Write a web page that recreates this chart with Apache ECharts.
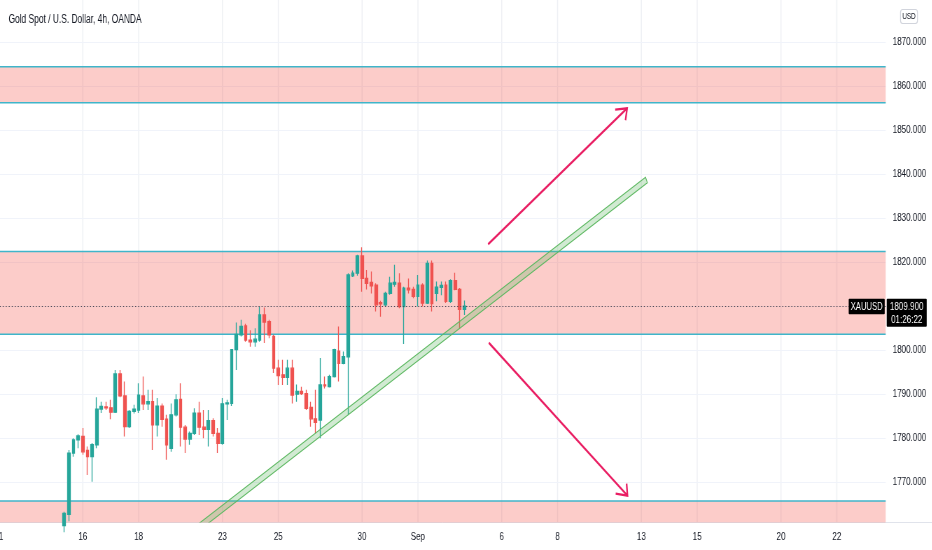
<!DOCTYPE html>
<html><head><meta charset="utf-8">
<script src="https://cdn.jsdelivr.net/npm/echarts@6/dist/echarts.min.js"></script>
<style>
html,body{margin:0;padding:0;background:#fff;overflow:hidden;width:932px;height:550px;}
#c{width:1331.4px;height:550px;transform:scaleX(0.7);transform-origin:0 0;}
</style>
</head><body><div id="c"></div>
<script>
// ---------- data ----------
const titleText = 'Gold Spot / U.S. Dollar, 4h, OANDA';
const tradingDays = ['Aug 11','Aug 12','Aug 13','Aug 16','Aug 17','Aug 18','Aug 19','Aug 20','Aug 23','Aug 24','Aug 25','Aug 26','Aug 27','Aug 30','Aug 31',
  'Sep 1','Sep 2','Sep 3','Sep 6','Sep 7','Sep 8','Sep 9','Sep 10','Sep 13','Sep 14','Sep 15','Sep 16','Sep 17','Sep 20','Sep 21','Sep 22','Sep 23'];
const barHours = ['01:00','05:00','09:00','13:00','17:00','21:00'];
const firstBar = 'Aug 13 09:00';
const opens  = [1760.0,1762.6,1776.5,1779.5,1780.3,1777.1,1775.7,1778.4,1786.5,1787.0,1786.8,1785.8,1794.5,1789.5,1782.5,1786.0,1786.3,1789.5,1787.7,1788.2,
  1782.9,1787.2,1784.2,1777.6,1785.2,1788.7,1782.4,1779.7,1781.0,1785.6,1782.4,1781.9,1783.9,1781.0,1778.7,1787.7,1787.8,1800.0,1803.4,1805.4,
  1802.2,1801.8,1802.2,1807.9,1806.4,1803.0,1795.8,1794.3,1793.7,1795.8,1789.9,1790.5,1790.0,1786.9,1784.3,1784.0,1792.0,1791.6,1793.9,1799.7,
  1796.9,1798.4,1816.8,1817.4,1821.3,1816.2,1815.3,1814.7,1810.7,1810.2,1812.8,1814.9,1815.1,1809.8,1814.0,1813.7,1812.1,1814.7,1810.6,1819.6,
  1812.8,1814.2,1814.7,1811.0,1815.7,1813.7,1809.2];
const closes = [1762.8,1776.5,1779.5,1780.4,1776.8,1775.7,1778.4,1786.5,1787.1,1786.8,1785.8,1794.5,1789.5,1782.5,1786.0,1786.5,1789.7,1787.7,1788.2,1782.9,
  1787.2,1784.2,1778.4,1785.2,1788.6,1782.4,1779.7,1781.0,1785.6,1782.4,1781.9,1783.9,1781.0,1778.7,1787.7,1787.9,1800.0,1803.5,1805.3,1802.2,
  1801.8,1802.4,1807.9,1806.3,1803.4,1795.8,1794.1,1793.7,1795.8,1789.7,1790.5,1790.0,1786.7,1784.3,1783.5,1792.0,1791.8,1793.9,1800.0,1796.9,
  1798.4,1817.0,1817.4,1821.3,1816.2,1815.1,1814.5,1810.2,1810.4,1812.8,1815.1,1815.3,1809.8,1814.0,1813.6,1812.1,1814.7,1810.6,1819.6,1810.5,
  1814.2,1814.6,1811.0,1815.7,1813.7,1809.2,1809.9];
const lows   = [1758.5,1761.0,1775.7,1777.6,1776.1,1771.5,1770.0,1777.6,1785.6,1786.3,1784.2,1785.6,1789.2,1780.3,1782.2,1785.5,1785.6,1786.3,1786.3,1777.2,
  1780.3,1782.5,1775.0,1776.8,1784.8,1778.0,1776.5,1778.4,1780.6,1780.6,1779.9,1778.0,1780.3,1776.5,1778.4,1784.0,1787.2,1795.4,1803.0,1801.8,
  1800.7,1800.7,1801.8,1801.5,1802.6,1794.7,1792.0,1792.0,1792.0,1787.8,1788.2,1789.7,1786.3,1782.5,1781.0,1779.9,1791.2,1791.4,1793.7,1792.8,
  1796.7,1785.2,1816.5,1816.8,1813.2,1813.7,1812.8,1808.7,1807.5,1809.8,1812.5,1814.3,1809.4,1801.3,1812.8,1811.7,1809.8,1809.8,1810.4,1808.7,
  1811.0,1812.4,1810.6,1810.6,1813.5,1804.9,1807.9];
const highs  = [1763.2,1777.2,1779.9,1780.8,1782.2,1778.0,1778.8,1789.2,1788.2,1788.2,1788.6,1795.4,1795.4,1792.8,1786.3,1787.5,1792.4,1793.9,1790.9,1790.9,
  1789.0,1787.8,1785.2,1787.8,1789.9,1792.4,1782.9,1781.4,1786.7,1788.2,1786.3,1786.3,1784.4,1782.2,1789.0,1788.6,1800.1,1806.2,1806.8,1805.9,
  1804.4,1804.9,1809.8,1809.6,1806.8,1803.4,1797.7,1797.7,1797.7,1797.7,1792.1,1791.6,1790.9,1788.2,1790.9,1798.1,1793.9,1794.3,1800.2,1805.3,
  1799.6,1817.4,1818.0,1821.6,1823.3,1818.1,1817.8,1815.1,1811.1,1813.2,1816.6,1819.3,1817.4,1814.3,1816.2,1814.3,1817.0,1815.1,1820.3,1820.3,
  1815.5,1815.5,1815.5,1816.0,1817.5,1814.0,1811.2];
const tickDays   = ['Aug 11','Aug 16','Aug 18','Aug 23','Aug 25','Aug 30','Sep 1','Sep 6','Sep 8','Sep 13','Sep 15','Sep 20','Sep 22'];
const tickLabels = ['11','16','18','23','25','30','Sep','6','8','13','15','20','22'];
const priceTicks = [1770,1780,1790,1800,1810,1820,1830,1840,1850,1860,1870];
const priceMin = 1760.73, priceMax = 1879.48;
const lastVisibleBar = 190;
// zones: [low, high]
const zoneLows  = [1856.1, 1803.5, 1700];
const zoneHighs = [1864.3, 1822.3, 1765.6];
// trend channel polygon [bar position, price]
const channelPts = [[42.09,1759.8],[138.9,1839.2],[139.3,1837.95],[42.09,1758.2]];
// arrows [from, to]
const arrowUp   = [[105.08,1823.96],[134.94,1854.87]];
const arrowDown = [[105.23,1801.59],[135.02,1766.82]];
const lastPrice = 1809.9;
const symbolName = 'XAUUSD';
const countdown = '01:26:22';
const currency = 'USD';

// ---------- build ----------
const SX = 0.7; // page is drawn wide then squeezed horizontally (condensed look of reference)
const FONT = "'Liberation Sans',Arial,sans-serif";
const categories = tradingDays.flatMap(d => barHours.map(h => d + ' ' + h));
const start = categories.indexOf(firstBar);
const candleData = categories.map((c, i) => {
  const k = i - start;
  return (k >= 0 && k < opens.length) ? [opens[k], closes[k], lows[k], highs[k]] : '-';
});
const tickIdx = tickDays.map(d => categories.indexOf(d + ' ' + barHours[0]));

const chart = echarts.init(document.getElementById('c'), null, {renderer: 'canvas'});

function vGrid(params, api) {
  const cs = params.coordSys;
  const x = api.coord([api.value(0), priceMin])[0];
  return {type: 'line', shape: {x1: x, y1: cs.y, x2: x, y2: cs.y + cs.height}, style: {stroke: '#eef0f4', lineWidth: 1.4}};
}
function hGrid(params, api) {
  const cs = params.coordSys;
  const y = Math.round(api.coord([0, api.value(0)])[1]) + 0.5;
  return {type: 'line', shape: {x1: cs.x, y1: y, x2: cs.x + cs.width, y2: y}, style: {stroke: '#f0f3fa', lineWidth: 1}};
}
function zoneItem(params, api) {
  const cs = params.coordSys;
  const yLo = api.coord([0, api.value(0)])[1];
  const yHi = api.coord([0, api.value(1)])[1];
  const left = cs.x, right = cs.x + cs.width;
  return {type: 'group', children: [
    {type: 'rect', shape: {x: left, y: yHi, width: cs.width, height: yLo - yHi}, style: {fill: 'rgba(244,67,54,0.27)'}},
    {type: 'line', shape: {x1: left, y1: yHi, x2: right, y2: yHi}, style: {stroke: '#3fb5ca', lineWidth: 1.5}},
    {type: 'line', shape: {x1: left, y1: yLo, x2: right, y2: yLo}, style: {stroke: '#3fb5ca', lineWidth: 1.5}}
  ]};
}
function arrowItem(params, api) {
  const p0 = api.coord([api.value(0), api.value(1)]);
  const p1 = api.coord([api.value(2), api.value(3)]);
  // head computed in the on-screen (squeezed) space
  const dx = (p1[0] - p0[0]) * SX, dy = p1[1] - p0[1];
  const len = Math.hypot(dx, dy);
  const bx = -dx / len, by = -dy / len;
  const a = 38 * Math.PI / 180, L = 12;
  const rot = (s) => [p1[0] + L * (bx * Math.cos(s) - by * Math.sin(s)) / SX, p1[1] + L * (bx * Math.sin(s) + by * Math.cos(s))];
  return {type: 'group', children: [
    {type: 'line', shape: {x1: p0[0], y1: p0[1], x2: p1[0], y2: p1[1]}, style: {stroke: '#e91e63', lineWidth: 2.3}},
    {type: 'polyline', shape: {points: [rot(a), p1, rot(-a)]}, style: {stroke: '#e91e63', lineWidth: 2.3, fill: null}}
  ]};
}

const W = 932 / SX;
const option = {
  backgroundColor: '#ffffff',
  animation: false,
  title: {text: titleText, left: 5 / SX, top: 9, textStyle: {fontSize: 12, fontWeight: 'normal', color: '#131722', fontFamily: FONT}},
  grid: {left: -3.3 / SX, right: W - 886 / SX, top: 0, bottom: 27.5, outerBoundsMode: 'none', containLabel: false},
  xAxis: [{
    type: 'category', data: categories, max: lastVisibleBar, boundaryGap: true,
    axisLine: {show: true, lineStyle: {color: '#e0e3eb', width: 1}},
    axisTick: {show: false}, splitLine: {show: false},
    axisLabel: {
      interval: (i) => tickIdx.indexOf(i) >= 0,
      formatter: (v, i) => { const k = tickIdx.indexOf(i); return k >= 0 ? tickLabels[k] : ''; },
      color: '#131722', fontSize: 11.5, fontFamily: FONT, margin: 8, hideOverlap: false
    }
  }, {
    type: 'value', min: -0.5, max: lastVisibleBar + 0.5, show: false
  }],
  yAxis: [{
    type: 'value', position: 'right', min: priceMin, max: priceMax, scale: true,
    axisLine: {show: true, lineStyle: {color: '#e0e3eb', width: 1.4}},
    axisTick: {show: false, customValues: priceTicks},
    splitLine: {show: false},
    axisLabel: {customValues: priceTicks, formatter: (v) => v.toFixed(3), color: '#131722', fontSize: 11.5, fontFamily: FONT, margin: 10, align: 'left'}
  }],
  graphic: [
    {type: 'line', shape: {x1: 886 / SX, y1: 522.5, x2: W, y2: 522.5}, style: {stroke: '#e0e3eb', lineWidth: 1}},
    {type: 'rect', shape: {x: 900.5 / SX, y: 9.5, width: 17 / SX, height: 14, r: 3}, style: {fill: '#fff', stroke: '#d1d4dc', lineWidth: 1.2}},
    {type: 'text', x: 909 / SX, y: 16.5, style: {text: currency, fill: '#131722', font: '9px ' + FONT, align: 'center', verticalAlign: 'middle'}}
  ],
  series: [
    {type: 'custom', name: 'vgrid', xAxisIndex: 1, yAxisIndex: 0, data: tickIdx.map(v => [v]), renderItem: vGrid, silent: true, z: 0},
    {type: 'custom', name: 'hgrid', xAxisIndex: 1, yAxisIndex: 0, data: priceTicks.map(v => [v]), renderItem: hGrid, silent: true, z: 0},
    {type: 'custom', name: 'zones', xAxisIndex: 1, yAxisIndex: 0, clip: true, silent: true, z: 1,
     data: zoneLows.map((lo, k) => [lo, zoneHighs[k]]), renderItem: zoneItem},
    {type: 'candlestick', name: 'XAUUSD', xAxisIndex: 0, yAxisIndex: 0, data: candleData, barWidth: 4.3, clip: true, z: 3,
     itemStyle: {color: '#26a69a', color0: '#ef5350', borderColor: '#26a69a', borderColor0: '#ef5350', borderWidth: 1.3}},
    {type: 'custom', name: 'priceLine', xAxisIndex: 1, yAxisIndex: 0, clip: true, silent: true, z: 4, data: [[lastPrice]],
     renderItem: (params, api) => {
       const cs = params.coordSys;
       const y = Math.round(api.coord([0, api.value(0)])[1]) + 0.5;
       return {type: 'line', shape: {x1: cs.x, y1: y, x2: cs.x + cs.width, y2: y}, style: {stroke: '#434651', lineWidth: 1, lineDash: [1.4, 2.9]}};
     }},
    {type: 'custom', name: 'channel', xAxisIndex: 1, yAxisIndex: 0, clip: true, silent: true, z: 5, data: [channelPts.flat()],
     renderItem: (params, api) => {
       const pts = [0, 1, 2, 3].map(k => api.coord([api.value(2 * k), api.value(2 * k + 1)]));
       return {type: 'polygon', shape: {points: pts}, style: {fill: 'rgba(102,187,106,0.3)', stroke: '#5cb860', lineWidth: 1.1}};
     }},
    {type: 'custom', name: 'arrows', xAxisIndex: 1, yAxisIndex: 0, clip: true, silent: true, z: 6,
     data: [arrowUp.flat(), arrowDown.flat()], renderItem: arrowItem},
    {type: 'custom', name: 'tags', xAxisIndex: 1, yAxisIndex: 0, clip: false, silent: true, z: 10, data: [[lastPrice]],
     renderItem: (params, api) => {
       const cs = params.coordSys;
       const y = api.coord([0, api.value(0)])[1];
       const right = cs.x + cs.width;
       return {type: 'group', children: [
         {type: 'rect', shape: {x: right - 37 / SX, y: y - 7.5, width: 36 / SX, height: 15.5, r: 1}, style: {fill: '#000'}},
         {type: 'text', style: {x: right - 19 / SX, y: y + 0.5, text: symbolName, fill: '#fff', font: '11px ' + FONT, align: 'center', verticalAlign: 'middle'}},
         {type: 'rect', shape: {x: right + 1 / SX, y: y - 7.5, width: 40 / SX, height: 28, r: 1}, style: {fill: '#000'}},
         {type: 'text', style: {x: right + 21 / SX, y: y + 0.5, text: api.value(0).toFixed(3), fill: '#fff', font: '11.5px ' + FONT, align: 'center', verticalAlign: 'middle'}},
         {type: 'text', style: {x: right + 21 / SX, y: y + 13.5, text: countdown, fill: '#fff', font: '11.5px ' + FONT, align: 'center', verticalAlign: 'middle'}}
       ]};
     }}
  ]
};
chart.setOption(option);
</script>
</body></html>
